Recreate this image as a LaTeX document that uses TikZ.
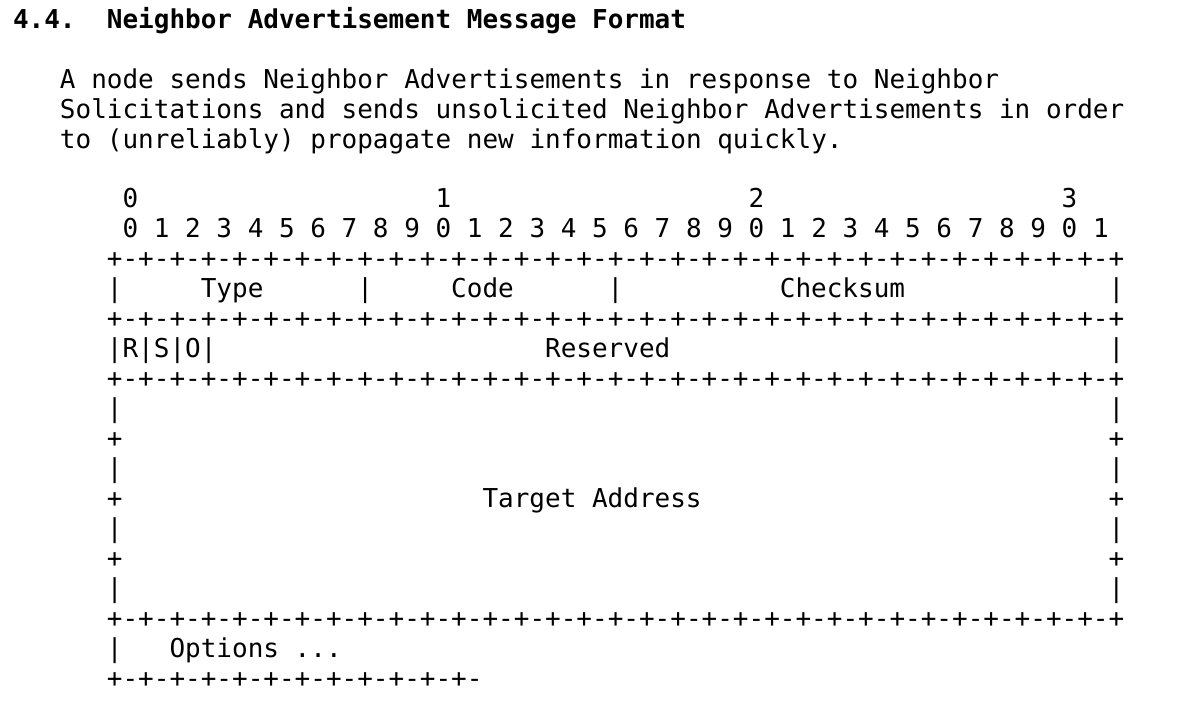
\documentclass[tikz,border=0pt]{standalone}
\usepackage{fontspec}
\newfontfamily\rfcmono{DejaVu Sans Mono}
\usetikzlibrary{calc}
\newcommand{\bitborder}{+-+-+-+-+-+-+-+-+-+-+-+-+-+-+-+-+-+-+-+-+-+-+-+-+-+-+-+-+-+-+-+-+}
\tikzset{
  rfctext/.style={anchor=base west, inner sep=0pt, font=\rfcmono\fontsize{13}{15}\selectfont},
  rfctitle/.style={rfctext, font=\rfcmono\bfseries\fontsize{13}{15}\selectfont}
}

\begin{document}
\begin{tikzpicture}[x=0.5pt, y=-0.5pt]
    \useasboundingbox (0,0) rectangle (1186,702);
    % heading and paragraph
    \node[rfctitle] (title) at (12.6,28.5) {4.4.~~Neighbor Advertisement Message Format};
    \node[rfctext] (para1) at ({12.6+3*15.65},88.5) {A node sends Neighbor Advertisements in response to Neighbor};
    \node[rfctext] (para2) at ({12.6+3*15.65},118.5) {Solicitations and sends unsolicited Neighbor Advertisements in order};
    \node[rfctext] (para3) at ({12.6+3*15.65},148.5) {to (unreliably) propagate new information quickly.};

    % bit ruler
    \node[rfctext] (tens0) at ({12.6+7*15.65},207.5) {0};
    \node[rfctext] (tens1) at ({12.6+27*15.65},207.5) {1};
    \node[rfctext] (tens2) at ({12.6+47*15.65},207.5) {2};
    \node[rfctext] (tens3) at ({12.6+67*15.65},207.5) {3};
    \node[rfctext] (units) at ({12.6+7*15.65},237.5) {0 1 2 3 4 5 6 7 8 9 0 1 2 3 4 5 6 7 8 9 0 1 2 3 4 5 6 7 8 9 0 1};

    % header words
    \node[rfctext] (border0) at ({12.6+6*15.65},267.5) {\bitborder};
    \node[rfctext] (barA) at ({12.6+6*15.65},297.5) {|};
    \node[rfctext] (type) at ({12.6+12*15.65},297.5) {Type};
    \node[rfctext] (barB) at ({12.6+22*15.65},297.5) {|};
    \node[rfctext] (code) at ({12.6+28*15.65},297.5) {Code};
    \node[rfctext] (barC) at ({12.6+38*15.65},297.5) {|};
    \node[rfctext] (checksum) at ({12.6+49*15.65},297.5) {Checksum};
    \node[rfctext] (barD) at ({12.6+70*15.65},297.5) {|};
    \node[rfctext] (border1) at ({12.6+6*15.65},327.5) {\bitborder};
    \node[rfctext] (flags) at ({12.6+6*15.65},357.5) {|R|S|O|};
    \node[rfctext] (reserved) at ({12.6+34*15.65},357.5) {Reserved};
    \node[rfctext] (barE) at ({12.6+70*15.65},357.5) {|};
    \node[rfctext] (border2) at ({12.6+6*15.65},387.5) {\bitborder};

    % target address
    \foreach \k/\c in {5/|,6/+,7/|,8/+,9/|,10/+,11/|} {
      \node[rfctext] (left\k) at ({12.6+6*15.65},{267.5+30*\k}) {\c};
      \node[rfctext] (right\k) at ({12.6+70*15.65},{267.5+30*\k}) {\c};
    }
    \node[rfctext] (target) at ({12.6+30*15.65},507.5) {Target Address};
    \node[rfctext] (border3) at ({12.6+6*15.65},627.5) {\bitborder};

    % options
    \node[rfctext] (barF) at ({12.6+6*15.65},657.5) {|};
    \node[rfctext] (options) at ({12.6+10*15.65},657.5) {Options ...};
    \node[rfctext] (border4) at ({12.6+6*15.65},687.5) {+-+-+-+-+-+-+-+-+-+-+-+-};
\end{tikzpicture}
\end{document}
